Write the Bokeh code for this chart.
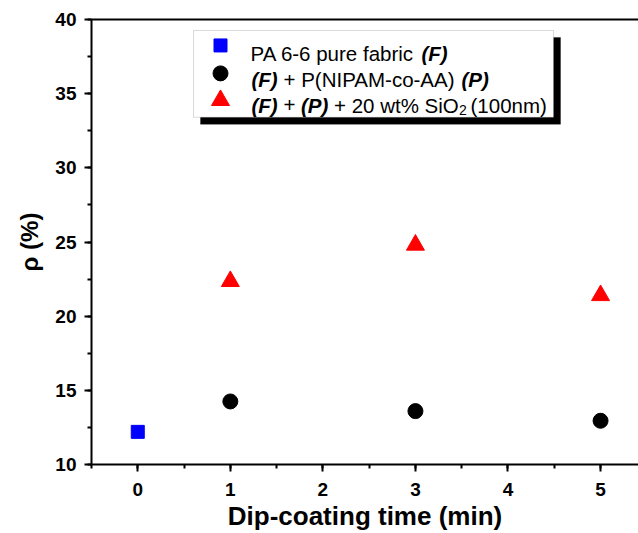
from bokeh.plotting import figure
from bokeh.models import (LinearAxis, SingleIntervalTicker, FixedTicker, BoxAnnotation,
                          Label, Range1d)
from bokeh.embed import file_html
from bokeh.resources import INLINE

# ---- data ----
pure_time = [0]
pure_rho = [12.2]

pnipam_time = [1, 3, 5]
pnipam_rho = [14.25, 13.6, 12.95]

sio2_time = [1, 3, 5]
sio2_rho = [22.35, 24.8, 21.4]

x_label = "Dip-coating time (min)"
y_label = "ρ (%)"

# ---- layout constants ----
W, H = 638, 533
FL, FR, FT, FB = 91, 638, 19, 465
XS, XE = -0.5, 5.41
YS, YE = 10, 40
FONT = "Liberation Sans"


def px2x(px):
    return XS + (px - FL) * (XE - XS) / (FR - FL)


def py2y(py):
    return YE - (py - FT) * (YE - YS) / (FB - FT)


p = figure(width=W, height=H, output_backend="svg", toolbar_location=None,
           x_range=Range1d(XS, XE), y_range=Range1d(YS, YE),
           x_axis_location=None, y_axis_location=None,
           min_border_left=FL, min_border_right=W - FR,
           min_border_top=FT, min_border_bottom=H - FB)
p.outline_line_color = None
p.xgrid.visible = False
p.ygrid.visible = False
p.background_fill_color = "white"
p.border_fill_color = "white"

xaxis = LinearAxis(ticker=SingleIntervalTicker(interval=1, num_minor_ticks=2),
                   axis_label=x_label)
yaxis = LinearAxis(ticker=SingleIntervalTicker(interval=5, num_minor_ticks=2),
                   axis_label=y_label)
for ax in (xaxis, yaxis):
    ax.axis_line_width = 2
    ax.axis_line_color = "black"
    ax.major_tick_line_width = 2
    ax.minor_tick_line_width = 2
    ax.major_tick_in = 0
    ax.major_tick_out = 7
    ax.minor_tick_in = 0
    ax.minor_tick_out = 4
    ax.major_label_text_font = FONT
    ax.major_label_text_font_style = "bold"
    ax.major_label_text_font_size = "19px"
    ax.major_label_text_color = "black"
    ax.axis_label_text_font = FONT
    ax.axis_label_text_font_style = "bold"
    ax.axis_label_text_color = "black"
xaxis.major_label_standoff = 11
xaxis.axis_label_text_font_size = "26px"
xaxis.axis_label_standoff = 2
yaxis.major_label_standoff = 8
yaxis.axis_label_text_font_size = "24px"
yaxis.axis_label_standoff = 9
p.add_layout(xaxis, "below")
p.add_layout(yaxis, "left")

top_axis = LinearAxis(ticker=FixedTicker(ticks=[]), major_label_text_font_size="0px",
                      axis_line_width=2, major_tick_line_color=None,
                      minor_tick_line_color=None)
p.add_layout(top_axis, "above")

# ---- data marks ----
p.scatter(pure_time, pure_rho, marker="square", size=13, color="#0000ff")
p.scatter(pnipam_time, pnipam_rho, marker="circle", size=15, color="black")
p.scatter(sio2_time, sio2_rho, marker="triangle", size=18, color="#ff0000")

# ---- custom legend ----
bl, bt, br, bb = 193, 30, 553, 117
sh = 7
p.add_layout(BoxAnnotation(left=px2x(bl + sh), right=px2x(br + sh), top=py2y(bt + sh),
                           bottom=py2y(bb + sh), fill_color="black", fill_alpha=1,
                           line_color="black", level="underlay"))
p.add_layout(BoxAnnotation(left=px2x(bl), right=px2x(br), top=py2y(bt), bottom=py2y(bb),
                           fill_color="white", fill_alpha=1, line_color="#808080",
                           line_width=1, level="underlay"))

p.scatter([px2x(220)], [py2y(45)], marker="square", size=13, color="#0000ff")
p.scatter([px2x(220)], [py2y(73)], marker="circle", size=15, color="black")
p.scatter([px2x(220)], [py2y(100)], marker="triangle", size=18, color="#ff0000")

FS = "20.5px"
segments = [
    # (text, px_x, baseline_py, style, size)
    ("PA 6-6 pure fabric", 250, 53, "normal", FS),
    ("(F)", 421, 53, "bold italic", FS),
    ("(F)", 251, 79, "bold italic", FS),
    ("+ P(NIPAM-co-AA)", 283, 79, "normal", FS),
    ("(P)", 461, 79, "bold italic", FS),
    ("(F)", 251, 105, "bold italic", FS),
    ("+", 283, 105, "normal", FS),
    ("(P)", 300.5, 105, "bold italic", FS),
    ("+ 20 wt% SiO", 333.5, 105, "normal", FS),
    ("2", 458.5, 110, "normal", "14px"),
    ("(100nm)", 470, 105, "normal", FS),
]
for txt, px, py, style, size in segments:
    p.add_layout(Label(x=px2x(px), y=py2y(py), text=txt, text_align="left",
                       text_baseline="alphabetic", text_font=FONT,
                       text_font_style=style, text_font_size=size, text_color="black"))

open("out.html", "w").write(file_html(p, INLINE))
